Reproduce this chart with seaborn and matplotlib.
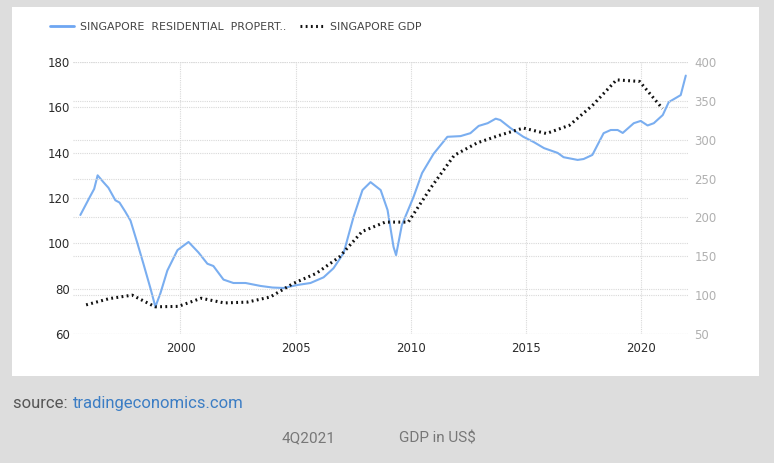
import matplotlib
matplotlib.use("Agg")
import matplotlib.pyplot as plt
import matplotlib.patches as mpatches
from matplotlib.lines import Line2D
import numpy as np
import pandas as pd
import seaborn as sns

# residential property price index (left axis)
prop_dates = [1995.65, 1996.09, 1996.25, 1996.4, 1996.65, 1996.87, 1997.17, 1997.35,
              1997.6, 1997.83, 1998.13, 1998.39, 1998.7, 1998.91, 1999.13, 1999.43,
              1999.87, 2000.35, 2000.78, 2001.17, 2001.43, 2001.87, 2002.3, 2002.83,
              2003.48, 2004.0, 2004.48, 2005.07, 2005.65, 2006.22, 2006.65, 2007.09,
              2007.52, 2007.91, 2008.26, 2008.7, 2009.0, 2009.26, 2009.37, 2009.62,
              2010.13, 2010.5, 2011.0, 2011.6, 2012.17, 2012.6, 2012.96, 2013.35,
              2013.7, 2013.9, 2014.35, 2014.9, 2015.35, 2015.8, 2016.39, 2016.65,
              2017.26, 2017.52, 2017.9, 2018.39, 2018.7, 2019.0, 2019.22, 2019.7,
              2020.0, 2020.3, 2020.57, 2020.96, 2021.22, 2021.74, 2021.96]
prop_values = [112.5, 121, 124, 130, 127, 124.5, 119, 118,
               114, 110, 100, 91, 80, 72, 78, 88,
               97, 100.6, 96, 91, 90, 84, 82.5, 82.5,
               81.2, 80.5, 80.3, 81.6, 82.5, 85, 89, 95.7,
               111.6, 123.5, 127, 123.5, 114.7, 98.4, 94.8, 108,
               120.5, 131, 139.5, 147, 147.3, 148.6, 151.8, 153,
               155, 154.4, 150.8, 147, 144.7, 142, 139.9, 138,
               136.8, 137.2, 139, 148.6, 150, 150, 148.7, 153,
               154, 152, 153, 156.6, 162.3, 165.4, 174]

# GDP in US$ billions (right axis), annual, plotted at year end
gdp_dates = [1995.9, 1996.9, 1997.9, 1998.9, 1999.9, 2000.9, 2001.9, 2002.9, 2003.9,
             2004.9, 2005.9, 2006.9, 2007.9, 2008.9, 2009.9, 2010.9, 2011.9, 2012.9,
             2013.9, 2014.9, 2015.9, 2016.9, 2017.9, 2018.95, 2019.95, 2020.95]
gdp_values = [87.5, 95.5, 100, 85, 85.5, 96, 90, 91, 97.6,
              115, 128, 149, 182, 194, 194, 239, 280, 296,
              306, 315, 308, 318.5, 344, 377, 375, 340]

left_ticks = [60, 80, 100, 120, 140, 160, 180]
right_ticks = [50, 100, 150, 200, 250, 300, 350, 400]
year_ticks = [2000, 2005, 2010, 2015, 2020]

prop_df = pd.DataFrame({"date": prop_dates, "value": prop_values})
gdp_df = pd.DataFrame({"date": gdp_dates, "value": gdp_values})

sns.set_style("white")
plt.rcParams["font.family"] = ["DejaVu Sans"]

fig = plt.figure(figsize=(7.74, 4.63), dpi=100)
fig.patch.set_facecolor("#dddddd")
fig.patches.append(mpatches.Rectangle((12 / 774, 1 - 376 / 463), (759 - 12) / 774,
                                      (376 - 7) / 463, transform=fig.transFigure,
                                      facecolor="white", edgecolor="none", zorder=-5))

ax = fig.add_axes([73 / 774, 1 - 334 / 463, (689 - 73) / 774, (334 - 62) / 463])
ax.patch.set_alpha(0)
ax2 = ax.twinx()
ax2.patch.set_alpha(0)

grid_kw = dict(color="#d9d9d9", lw=0.8, ls=(0, (1, 1)))
for t in left_ticks:
    ax.axhline(t, zorder=0, **grid_kw)
for t in right_ticks:
    ax2.axhline(t, zorder=0, **grid_kw)
for t in year_ticks:
    ax.axvline(t, zorder=0, **grid_kw)

sns.lineplot(data=prop_df, x="date", y="value", ax=ax, color="#7aaef0", lw=1.5,
             legend=False, zorder=3)
sns.lineplot(data=gdp_df, x="date", y="value", ax=ax2, color="#111111", lw=2.2,
             ls=(0, (0.6, 1.1)), legend=False, zorder=4)

ax.set_xlim(1995.33, 2022.1)
ax.set_ylim(60, 180)
ax2.set_ylim(50, 400)
ax.set_xticks(year_ticks)
ax.set_yticks(left_ticks)
ax2.set_yticks(right_ticks)
ax.set_xlabel("")
ax.set_ylabel("")
ax2.set_ylabel("")
for a in (ax, ax2):
    for s in a.spines.values():
        s.set_visible(False)
ax.tick_params(axis="both", length=0, labelsize=8.5, labelcolor="#2b2b2b", pad=2)
ax.tick_params(axis="x", pad=6)
ax2.tick_params(axis="y", length=0, labelsize=8.5, labelcolor="#b0b0b0", pad=4)

handles = [Line2D([], [], color="#6ea6f2", lw=2),
           Line2D([], [], color="#111111", lw=2.2, ls=(0, (0.6, 1.1)))]
fig.legend(handles, ["SINGAPORE  RESIDENTIAL  PROPERT..", "SINGAPORE GDP"],
           loc="center left", bbox_to_anchor=(40 / 774, 1 - 27 / 463), ncol=2,
           frameon=False, fontsize=7.9, handlelength=2.2, handletextpad=0.5,
           columnspacing=1.3, labelcolor="#444444")

fig.text(13 / 774, 1 - 408 / 463, "source: ", fontsize=12, color="#555555",
         family=["Roboto", "DejaVu Sans"], va="baseline")
fig.text(73 / 774, 1 - 408 / 463, "tradingeconomics.com", fontsize=12, color="#3b7dc4",
         family=["Roboto", "DejaVu Sans"], va="baseline")
fig.text(309 / 774, 1 - 442 / 463, "4Q2021", fontsize=11, color="#777777",
         family=["Roboto", "DejaVu Sans"], va="baseline", ha="center")
fig.text(437 / 774, 1 - 442 / 463, "GDP in US$", fontsize=11, color="#777777",
         family=["Roboto", "DejaVu Sans"], va="baseline", ha="center")

fig.savefig("out.png", dpi=100, facecolor=fig.get_facecolor())
